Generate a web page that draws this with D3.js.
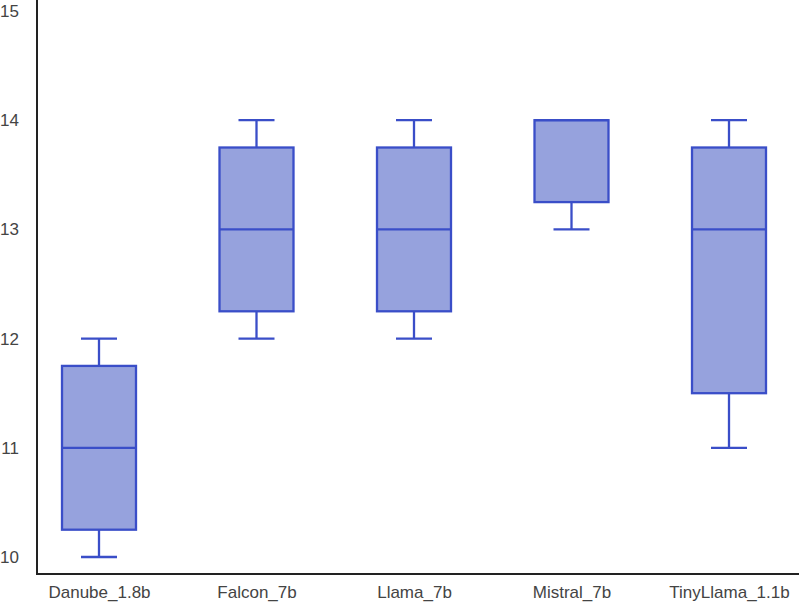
<!DOCTYPE html>
<html>
<head>
<meta charset="utf-8">
<script src="https://cdn.jsdelivr.net/npm/d3@7"></script>
<style>
  body { margin: 0; background: #fff; }
  text { font-family: "Liberation Sans", Arial, sans-serif; }
</style>
</head>
<body>
<svg></svg>
<script>
const models = ["Danube_1.8b", "Falcon_7b", "Llama_7b", "Mistral_7b", "TinyLlama_1.1b"];
const mins = [10, 12, 12, 13, 11];
const q1s = [10.25, 12.25, 12.25, 13.25, 11.5];
const medians = [11, 13, 13, 14, 13];
const q3s = [11.75, 13.75, 13.75, 14, 13.75];
const maxs = [12, 14, 14, 14, 14];
const yTicks = [10, 11, 12, 13, 14, 15];

const width = 799;
const height = 604;

const svg = d3.select("svg").attr("width", width).attr("height", height);

const data = models.map((m, i) => ({
  name: m, min: mins[i], q1: q1s[i], med: medians[i], q3: q3s[i], max: maxs[i]
}));

const xScale = d3.scalePoint().domain(models).range([99, 729]);
const yScale = d3.scaleLinear().domain([10, 15]).range([557, 11]);

const boxW = 74;
const capW = 36;
const stroke = "#3a4ec8";
const fill = "#96a2dd";
const sw = 2.3;

// axes
const yAxis = d3.axisLeft(yScale).tickValues(yTicks).tickFormat(d3.format("d"))
  .tickSize(0).tickPadding(18);
const yG = svg.append("g").attr("transform", "translate(37,0)").call(yAxis);
yG.select(".domain").remove();
yG.selectAll("text").attr("font-size", 17).attr("fill", "#444");

const xAxis = d3.axisBottom(xScale).tickSize(0).tickPadding(12);
const xG = svg.append("g").attr("transform", "translate(0,574)").call(xAxis);
xG.select(".domain").remove();
xG.selectAll("text").attr("font-size", 17).attr("fill", "#444");

svg.append("line").attr("x1", 37).attr("x2", 37).attr("y1", 0).attr("y2", 575)
  .attr("stroke", "#222").attr("stroke-width", 2);
svg.append("line").attr("x1", 36).attr("x2", width).attr("y1", 574).attr("y2", 574)
  .attr("stroke", "#222").attr("stroke-width", 2);

const g = svg.selectAll(".box").data(data).enter().append("g").attr("class", "box");

// whiskers
g.append("line")
  .attr("x1", d => xScale(d.name)).attr("x2", d => xScale(d.name))
  .attr("y1", d => yScale(d.max)).attr("y2", d => yScale(d.q3))
  .attr("stroke", stroke).attr("stroke-width", sw);
g.append("line")
  .attr("x1", d => xScale(d.name)).attr("x2", d => xScale(d.name))
  .attr("y1", d => yScale(d.q1)).attr("y2", d => yScale(d.min))
  .attr("stroke", stroke).attr("stroke-width", sw);
g.append("line")
  .attr("x1", d => xScale(d.name) - capW / 2).attr("x2", d => xScale(d.name) + capW / 2)
  .attr("y1", d => yScale(d.max)).attr("y2", d => yScale(d.max))
  .attr("stroke", stroke).attr("stroke-width", sw);
g.append("line")
  .attr("x1", d => xScale(d.name) - capW / 2).attr("x2", d => xScale(d.name) + capW / 2)
  .attr("y1", d => yScale(d.min)).attr("y2", d => yScale(d.min))
  .attr("stroke", stroke).attr("stroke-width", sw);

// boxes
g.append("rect")
  .attr("x", d => xScale(d.name) - boxW / 2)
  .attr("width", boxW)
  .attr("y", d => yScale(d.q3))
  .attr("height", d => yScale(d.q1) - yScale(d.q3))
  .attr("fill", fill).attr("stroke", stroke).attr("stroke-width", sw);

// medians
g.append("line")
  .attr("x1", d => xScale(d.name) - boxW / 2).attr("x2", d => xScale(d.name) + boxW / 2)
  .attr("y1", d => yScale(d.med)).attr("y2", d => yScale(d.med))
  .attr("stroke", stroke).attr("stroke-width", sw);
</script>
</body>
</html>
